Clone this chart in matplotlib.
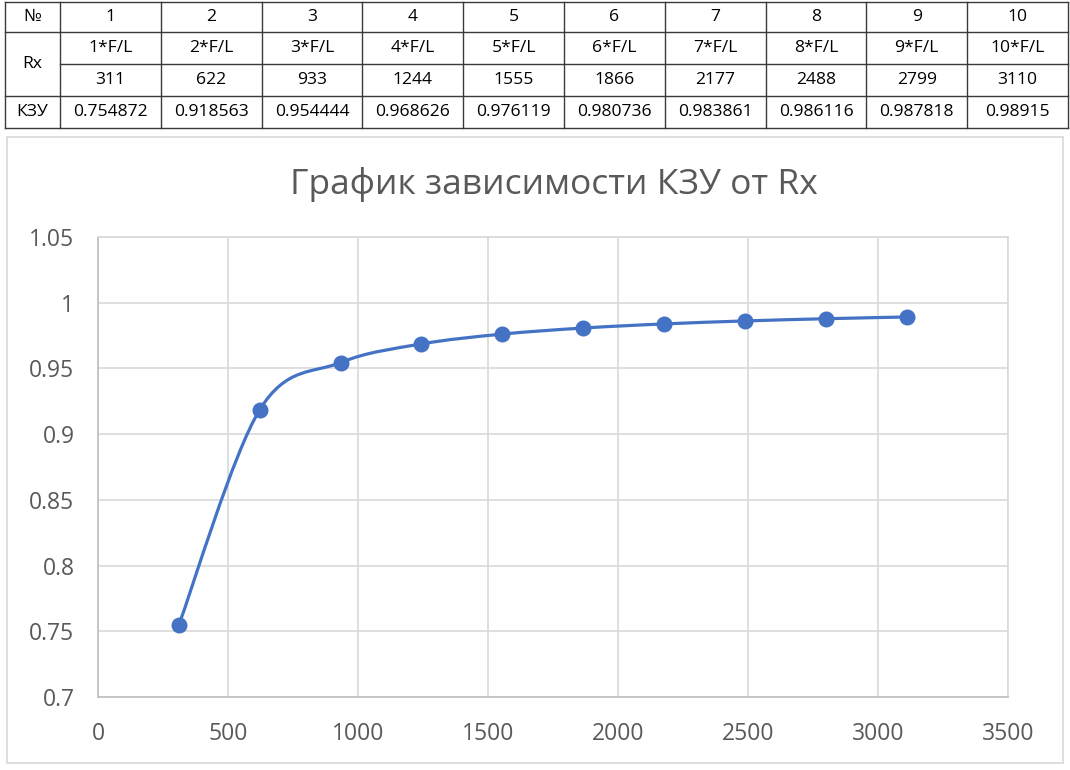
import matplotlib
matplotlib.use("Agg")
import matplotlib.pyplot as plt
from matplotlib.path import Path
from matplotlib.patches import PathPatch, Rectangle
import numpy as np

plt.rcParams['font.family'] = ['Open Sans', 'DejaVu Sans']

numbers = ["1", "2", "3", "4", "5", "6", "7", "8", "9", "10"]
rx_labels = ["1*F/L", "2*F/L", "3*F/L", "4*F/L", "5*F/L", "6*F/L", "7*F/L", "8*F/L", "9*F/L", "10*F/L"]
rx_values = [311, 622, 933, 1244, 1555, 1866, 2177, 2488, 2799, 3110]
kzu_values = [0.754872, 0.918563, 0.954444, 0.968626, 0.976119, 0.980736, 0.983861, 0.986116, 0.987818, 0.98915]
kzu_text = ["0.754872", "0.918563", "0.954444", "0.968626", "0.976119", "0.980736", "0.983861", "0.986116", "0.987818", "0.98915"]
title = "График зависимости КЗУ от Rx"

W, H = 1070, 770
fig = plt.figure(figsize=(W / 100, H / 100), dpi=100)

# ---------- table ----------
tax = fig.add_axes([0, 0, 1, 1])
tax.set_xlim(0, W)
tax.set_ylim(H, 0)
tax.axis('off')
col_edges = [5, 60] + [60 + (1068 - 60) * (i + 1) / 10 for i in range(10)]
row_edges = [2, 32, 64, 96, 128]
lc = '#3a3a3a'
tf = 12.6
for y in row_edges:
    if y == 64:
        tax.plot([col_edges[1], col_edges[-1]], [y, y], color=lc, lw=1)
    else:
        tax.plot([col_edges[0], col_edges[-1]], [y, y], color=lc, lw=1)
for x in col_edges:
    tax.plot([x, x], [row_edges[0], row_edges[-1]], color=lc, lw=1)
cx0 = (col_edges[0] + col_edges[1]) / 2
rc = [(row_edges[i] + row_edges[i + 1]) / 2 for i in range(4)]
tax.text(cx0, rc[0], "№", ha='center', va='center', fontsize=tf, color='black')
tax.text(cx0, (row_edges[1] + row_edges[3]) / 2, "Rx", ha='center', va='center', fontsize=tf, color='black')
tax.text(cx0, rc[3], "КЗУ", ha='center', va='center', fontsize=tf, color='black')
for i in range(10):
    cx = (col_edges[i + 1] + col_edges[i + 2]) / 2
    tax.text(cx, rc[0], numbers[i], ha='center', va='center', fontsize=tf, color='black')
    tax.text(cx, rc[1], rx_labels[i], ha='center', va='center', fontsize=tf, color='black')
    tax.text(cx, rc[2], str(rx_values[i]), ha='center', va='center', fontsize=tf, color='black')
    tax.text(cx, rc[3], kzu_text[i], ha='center', va='center', fontsize=tf, color='black')

# chart box
fig.patches.append(Rectangle((7 / W, 1 - 763 / H), (1063 - 7) / W, (763 - 137) / H,
                             transform=fig.transFigure, fill=False, edgecolor='#D9D9D9', lw=1.2))

fig.text(554 / W, 1 - 185 / H, title, ha='center', va='center', fontsize=25.5, color='#595959')

# ---------- chart ----------
ax = fig.add_axes([98 / W, 1 - 697 / H, (1008 - 98) / W, (697 - 237) / H])
ax.set_xlim(0, 3500)
ax.set_ylim(0.7, 1.05)
ax.set_xticks(np.arange(0, 3501, 500))
ax.set_yticks([0.7, 0.75, 0.8, 0.85, 0.9, 0.95, 1.0, 1.05])
ax.set_yticklabels(["0.7", "0.75", "0.8", "0.85", "0.9", "0.95", "1", "1.05"])
ax.grid(True, color='#D9D9D9', lw=1.2)
ax.set_axisbelow(True)
for s in ax.spines.values():
    s.set_color('#D9D9D9')
    s.set_linewidth(1.2)
ax.spines['left'].set_color('#BFBFBF')
ax.spines['bottom'].set_color('#BFBFBF')
ax.tick_params(length=0, labelsize=16.5, labelcolor='#595959')
ax.tick_params(axis='y', pad=17)
ax.tick_params(axis='x', pad=18)

# smooth curve (Excel-like Bezier through data points)
xs = np.array(rx_values, dtype=float)
ys = np.array(kzu_values, dtype=float)
sx = 910 / 3500.0
sy = 460 / 0.35
px = xs * sx
py = ys * sy
n = len(px)
verts = [(xs[0], ys[0])]
codes = [Path.MOVETO]
for i in range(n - 1):
    i0 = max(i - 1, 0)
    i3 = min(i + 2, n - 1)
    c1x = px[i] + (px[i + 1] - px[i0]) / 6
    c1y = py[i] + (py[i + 1] - py[i0]) / 6
    c2x = px[i + 1] - (px[i3] - px[i]) / 6
    c2y = py[i + 1] - (py[i3] - py[i]) / 6
    verts += [(c1x / sx, c1y / sy), (c2x / sx, c2y / sy), (xs[i + 1], ys[i + 1])]
    codes += [Path.CURVE4] * 3
ax.add_patch(PathPatch(Path(verts, codes), facecolor='none', edgecolor='#4472C4', lw=2.3,
                       capstyle='round', joinstyle='round', zorder=3))
ax.plot(xs, ys, linestyle='none', marker='o', markersize=10.5, color='#4472C4', zorder=4)

fig.savefig("out.png", dpi=100)
